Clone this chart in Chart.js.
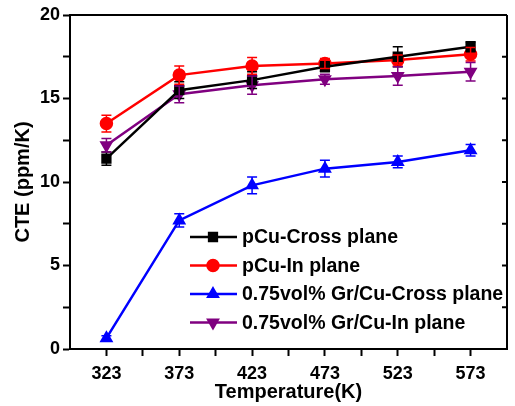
<!DOCTYPE html>
<html lang="en">
<head>
  <meta charset="UTF-8">
  <title>CTE vs Temperature</title>
  <script src="https://cdn.jsdelivr.net/npm/chart.js"></script>
  <style>
    body { margin: 0; background: #fff; }
  </style>
</head>
<body>
  <canvas id="cteChart" width="515" height="406"></canvas>

  <script>
    // data
    const temps = [323, 373, 423, 473, 523, 573];
    const xTickLabels = ['323', '373', '423', '473', '523', '573'];
    const yTickLabels = ['0', '5', '10', '15', '20'];

    const labels = ['pCu-Cross plane', 'pCu-In plane', '0.75vol% Gr/Cu-Cross plane', '0.75vol% Gr/Cu-In plane'];
    const pCuCross = [11.4, 15.5, 16.1, 16.9, 17.5, 18.1];
    const pCuIn = [13.5, 16.4, 16.95, 17.1, 17.3, 17.65];
    const grCross = [0.65, 7.7, 9.8, 10.8, 11.2, 11.9];
    const grIn = [12.2, 15.25, 15.8, 16.15, 16.35, 16.6];

    const errCross = [0.4, 0.5, 0.5, 0.3, 0.6, 0.3];
    const errIn = [0.5, 0.55, 0.5, 0.3, 0.3, 0.4];
    const errGrCross = [0.15, 0.4, 0.5, 0.5, 0.35, 0.35];
    const errGrIn = [0.4, 0.5, 0.55, 0.3, 0.55, 0.55];

    const font = 'Liberation Sans, Arial, sans-serif';

    function makeSet(label, values, errs, color, style, rot) {
      return {
        label: label,
        data: temps.map((t, i) => ({ x: t, y: values[i] })),
        errors: errs,
        borderColor: color,
        backgroundColor: color,
        borderWidth: 2.5,
        pointStyle: style,
        pointRotation: rot || 0,
        pointRadius: 5.5,
        pointHoverRadius: 5.5
      };
    }

    // error bars + frame + legend
    const extras = {
      id: 'extras',
      afterDatasetsDraw(chart) {
        const ctx = chart.ctx;
        const xs = chart.scales.x, ys = chart.scales.y;
        chart.data.datasets.forEach(ds => {
          ctx.save();
          ctx.strokeStyle = ds.borderColor;
          ctx.lineWidth = 1.5;
          ds.data.forEach((p, i) => {
            const px = xs.getPixelForValue(p.x);
            const top = ys.getPixelForValue(p.y + ds.errors[i]);
            const bot = ys.getPixelForValue(p.y - ds.errors[i]);
            ctx.beginPath();
            ctx.moveTo(px, top); ctx.lineTo(px, bot);
            ctx.moveTo(px - 5, top); ctx.lineTo(px + 5, top);
            ctx.moveTo(px - 5, bot); ctx.lineTo(px + 5, bot);
            ctx.stroke();
          });
          ctx.restore();
        });
      },
      afterDraw(chart) {
        const ctx = chart.ctx;
        const a = chart.chartArea;
        const ys = chart.scales.y;
        ctx.save();
        ctx.strokeStyle = '#000';
        ctx.lineWidth = 2;
        ctx.beginPath();
        ctx.moveTo(a.left, a.top); ctx.lineTo(a.right, a.top);
        ctx.moveTo(a.right, a.top); ctx.lineTo(a.right, a.bottom);
        ys.ticks.forEach(t => {
          const py = ys.getPixelForValue(t.value);
          ctx.moveTo(a.right, py); ctx.lineTo(a.right - 5, py);
        });
        ctx.stroke();

        // legend inside plot
        const lx = 190, ly = 237, gap = 28.5;
        ctx.font = 'bold 19.5px ' + font;
        ctx.textBaseline = 'middle';
        chart.data.datasets.forEach((ds, i) => {
          const y = ly + i * gap;
          ctx.strokeStyle = ds.borderColor;
          ctx.lineWidth = 2.5;
          ctx.beginPath();
          ctx.moveTo(lx, y); ctx.lineTo(lx + 47, y);
          ctx.stroke();
          Chart.helpers.drawPoint(ctx, {
            pointStyle: ds.pointStyle, rotation: ds.pointRotation, radius: 5.5, borderWidth: 1
          }, lx + 23, y);
          ctx.fillStyle = ds.borderColor;
          ctx.fill();
          ctx.fillStyle = '#000';
          ctx.fillText(ds.label, lx + 52, y + 1);
        });
        ctx.restore();
      }
    };

    new Chart(document.getElementById('cteChart'), {
      type: 'line',
      data: {
        datasets: [
          makeSet(labels[0], pCuCross, errCross, '#000000', 'rect'),
          makeSet(labels[1], pCuIn, errIn, '#ff0000', 'circle'),
          makeSet(labels[2], grCross, errGrCross, '#0000ff', 'triangle'),
          makeSet(labels[3], grIn, errGrIn, '#800080', 'triangle', 180)
        ]
      },
      options: {
        responsive: false,
        animation: false,
        layout: { padding: { top: 15, right: 2, left: 0, bottom: 0 } },
        plugins: { legend: { display: false }, tooltip: { enabled: false } },
        scales: {
          x: {
            type: 'linear',
            min: 298,
            max: 598,
            afterBuildTicks(s) {
              const t = [];
              for (let v = 323; v <= 573; v += 25) t.push({ value: v });
              s.ticks = t;
            },
            afterFit(s) { s.height = 57; },
            ticks: {
              color: '#000',
              font: { family: font, size: 18, weight: 'bold' },
              maxRotation: 0,
              autoSkip: false,
              padding: 7,
              callback: v => xTickLabels.includes(String(v)) ? String(v) : ''
            },
            grid: { drawOnChartArea: false, color: '#000', tickLength: 7, tickWidth: 2 },
            border: { color: '#000', width: 2 },
            title: {
              display: true,
              text: 'Temperature(K)',
              color: '#000',
              font: { family: font, size: 20, weight: 'bold' },
              padding: { top: 0, bottom: 2 }
            }
          },
          y: {
            min: 0,
            max: 20,
            afterBuildTicks(s) {
              const t = [];
              for (let v = 0; v <= 20; v += 2.5) t.push({ value: v });
              s.ticks = t;
            },
            afterFit(s) { s.width = 70; },
            ticks: {
              color: '#000',
              font: { family: font, size: 18, weight: 'bold' },
              padding: 3,
              autoSkip: false,
              callback: v => yTickLabels.includes(String(v)) ? String(v) : ''
            },
            grid: { drawOnChartArea: false, color: '#000', tickLength: 7, tickWidth: 2 },
            border: { color: '#000', width: 2 },
            title: {
              display: true,
              text: 'CTE (ppm/K)',
              color: '#000',
              font: { family: font, size: 20, weight: 'bold' },
              padding: { top: 11, bottom: 0 }
            }
          }
        }
      },
      plugins: [extras]
    });
  </script>
</body>
</html>
